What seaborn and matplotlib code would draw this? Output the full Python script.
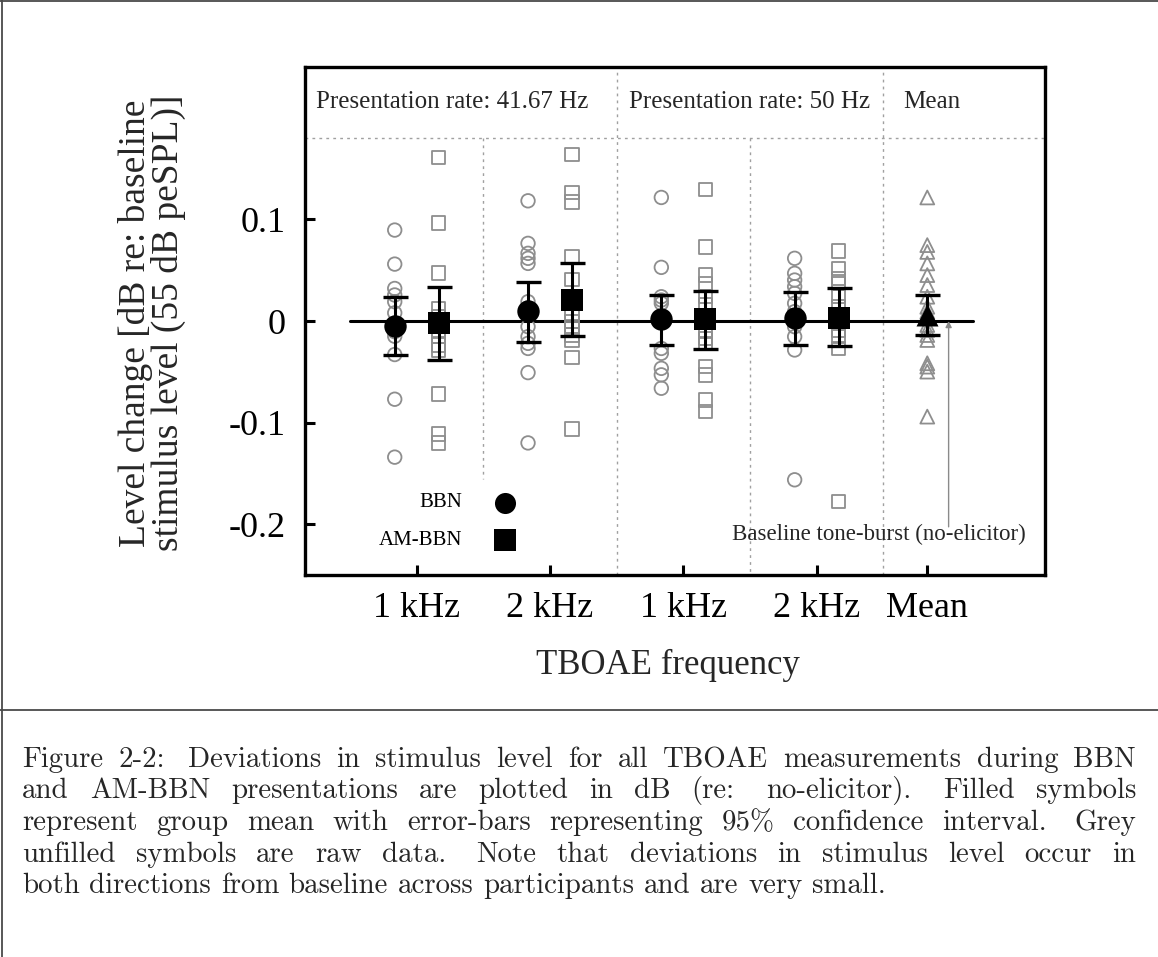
import numpy as np
import pandas as pd
import matplotlib
matplotlib.use("Agg")
import matplotlib.pyplot as plt
import seaborn as sns
from matplotlib.lines import Line2D

# ---------------- data ----------------
freq_labels = ["1 kHz", "2 kHz", "1 kHz", "2 kHz", "Mean"]
header_labels = ["Presentation rate: 41.67 Hz", "Presentation rate: 50 Hz", "Mean"]

bbn_r41_1k = [0.0895, 0.056, 0.032, 0.0256, 0.019, 0.008, -0.002, -0.0105, -0.015, -0.033, -0.077, -0.134]
amb_r41_1k = [0.161, 0.0967, 0.047, 0.0125, 0.0043, -0.0088, -0.0154, -0.0236, -0.0285, -0.0718, -0.1114, -0.12]
bbn_r41_2k = [0.1183, 0.0764, 0.0666, 0.0617, 0.0567, 0.019, 0.013, -0.0056, -0.0154, -0.022, -0.027, -0.0508, -0.12]
amb_r41_2k = [0.164, 0.1265, 0.1173, 0.0632, 0.041, 0.019, 0.0075, -0.0007, -0.0072, -0.0138, -0.0187, -0.0357, -0.1065]
bbn_r50_1k = [0.1216, 0.0528, 0.0239, 0.0206, 0.0174, 0.001, -0.027, -0.0318, -0.0466, -0.053, -0.0662]
amb_r50_1k = [0.1295, 0.073, 0.0452, 0.037, 0.0239, 0.0157, -0.0105, -0.017, -0.022, -0.0449, -0.053, -0.0777, -0.0892]
bbn_r50_2k = [0.0617, 0.0469, 0.0403, 0.0338, 0.0272, 0.0174, 0.0092, -0.0056, -0.0154, -0.0285, -0.1563]
amb_r50_2k = [0.069, 0.0518, 0.042, 0.037, 0.0239, 0.014, -0.0088, -0.0154, -0.027, -0.1777]
mean_raw = [0.1216, 0.0747, 0.068, 0.0567, 0.0452, 0.0354, 0.0239, 0.014, 0.0092, 0.0043,
            -0.0039, -0.0088, -0.0138, -0.0187, -0.0416, -0.0449, -0.0498, -0.0941]

bbn_mean = [-0.0049, 0.0098, 0.0016, 0.0026]
bbn_ci_lo = [-0.0334, -0.0203, -0.0236, -0.0236]
bbn_ci_hi = [0.0233, 0.0387, 0.0256, 0.0288]
amb_mean = [-0.0023, 0.0206, 0.0016, 0.0033]
amb_ci_lo = [-0.0384, -0.0147, -0.0279, -0.0246]
amb_ci_hi = [0.0338, 0.0567, 0.0298, 0.0321]
all_mean = [0.0059]
all_ci_lo = [-0.0138]
all_ci_hi = [0.0256]

caption_lines = [
    "Figure 2-2: Deviations in stimulus level for all TBOAE measurements during BBN",
    "and AM-BBN presentations are plotted in dB (re: no-elicitor). Filled symbols",
    "represent group mean with error-bars representing 95% confidence interval. Grey",
    "unfilled symbols are raw data. Note that deviations in stimulus level occur in",
    "both directions from baseline across participants and are very small.",
]

# ---------------- layout / style ----------------
sns.set_theme(style="white")
plt.rcParams["font.family"] = ["Liberation Serif", "DejaVu Serif"]

W, H = 1158, 957
fig = plt.figure(figsize=(W / 100, H / 100), dpi=100)
fig.patch.set_facecolor("white")

ax = fig.add_axes([305 / W, 1 - 575 / H, (1045 - 305) / W, (575 - 67) / H])
ax.set_facecolor("white")
ax.set_xlim(-0.838, 4.713)
ax.set_ylim(-0.25, 0.25)

group_pos = np.arange(4)
off = 0.165
mean_pos = 3.83
grey = "#8e8e8e"

rows = []
bbn_sets = [bbn_r41_1k, bbn_r41_2k, bbn_r50_1k, bbn_r50_2k]
amb_sets = [amb_r41_1k, amb_r41_2k, amb_r50_1k, amb_r50_2k]
for g, (b, a) in enumerate(zip(bbn_sets, amb_sets)):
    rows += [{"x": g - off, "y": v, "series": "BBN"} for v in b]
    rows += [{"x": g + off, "y": v, "series": "AM-BBN"} for v in a]
rows += [{"x": mean_pos, "y": v, "series": "Mean"} for v in mean_raw]
raw = pd.DataFrame(rows)

# separators / header
dot = (0, (2, 3))
ax.axhline(0.18, color="#a0a0a0", lw=1, ls=dot, zorder=1)
ax.plot([0.497, 0.497], [0.18, -0.156], color="#a0a0a0", lw=1, ls=dot, zorder=1)
ax.axvline(1.503, color="#a0a0a0", lw=1, ls=dot, zorder=1)
ax.plot([2.497, 2.497], [0.18, -0.25], color="#a0a0a0", lw=1, ls=dot, zorder=1)
ax.axvline(3.5, color="#a0a0a0", lw=1, ls=dot, zorder=1)

# zero baseline
ax.plot([-0.5, 4.17], [0, 0], color="black", lw=2.2, zorder=2)

# raw data (grey open symbols)
mk = {"BBN": "o", "AM-BBN": "s", "Mean": "^"}
for s, m in mk.items():
    sub = raw[raw["series"] == s]
    sns.scatterplot(data=sub, x="x", y="y", marker=m, s=95 if m != "^" else 100,
                    facecolors="none", edgecolor=grey, linewidth=1.3, ax=ax,
                    zorder=3, legend=False)

# group means with 95% CI
mdf = pd.DataFrame({
    "x": list(group_pos - off) + list(group_pos + off) + [mean_pos],
    "y": bbn_mean + amb_mean + all_mean,
    "lo": bbn_ci_lo + amb_ci_lo + all_ci_lo,
    "hi": bbn_ci_hi + amb_ci_hi + all_ci_hi,
    "series": ["BBN"] * 4 + ["AM-BBN"] * 4 + ["Mean"],
})
ax.errorbar(mdf["x"], mdf["y"], yerr=[mdf["y"] - mdf["lo"], mdf["hi"] - mdf["y"]],
            fmt="none", ecolor="black", elinewidth=2.2, capsize=9, capthick=2.4, zorder=4)
for s, m in mk.items():
    sub = mdf[mdf["series"] == s]
    sns.scatterplot(data=sub, x="x", y="y", marker=m, s=260 if m == "o" else 250,
                    color="black", edgecolor="black", linewidth=0, ax=ax, zorder=5, legend=False)

# legend (text + marker)
leg_y = [-0.179, -0.216]
for lab, yy, m in zip(["BBN", "AM-BBN"], leg_y, ["o", "s"]):
    ax.text(0.345, yy, lab, ha="right", va="center", fontsize=15, color="black")
    sns.scatterplot(x=[0.66], y=[yy], marker=m, s=230, color="black", linewidth=0, ax=ax,
                    legend=False, zorder=5)

# header texts
ax.text(0.265, 0.216, header_labels[0], ha="center", va="center", fontsize=18)
ax.text(2.5, 0.216, header_labels[1], ha="center", va="center", fontsize=18)
ax.text(3.86, 0.216, header_labels[2], ha="center", va="center", fontsize=18)

# baseline annotation
ax.annotate("", xy=(3.99, 0.0), xytext=(3.99, -0.2026),
            arrowprops=dict(arrowstyle="-|>", color="#8a8a8a", lw=1, mutation_scale=9,
                            shrinkA=0, shrinkB=0), zorder=3)
ax.text(3.47, -0.21, "Baseline tone-burst (no-elicitor)", ha="center", va="center", fontsize=16.5)

# axes cosmetics
ax.set_xticks(list(group_pos) + [mean_pos])
ax.set_xticklabels(freq_labels)
ax.set_yticks([-0.2, -0.1, 0, 0.1])
ax.set_yticklabels(["-0.2", "-0.1", "0", "0.1"])
ax.tick_params(axis="both", direction="in", length=7, width=2.2, color="black",
               labelsize=26, labelcolor="black")
ax.tick_params(axis="x", pad=12)
ax.tick_params(axis="y", pad=14)
ax.tick_params(left=True, bottom=True)
for sp in ax.spines.values():
    sp.set_visible(True)
    sp.set_color("black")
    sp.set_linewidth(2.4)
ax.grid(False)
ax.set_xlabel("")
ax.set_ylabel("")

fig.text(668 / W, 1 - 665 / H, "TBOAE frequency", ha="center", va="center", fontsize=25)
fig.text(152 / W, 1 - 323 / H, "Level change [dB re: baseline\nstimulus level (55 dB peSPL)]",
         ha="center", va="center", rotation=90, fontsize=27, linespacing=0.92,
         multialignment="center")

# frame lines
for xs, ys in [([0, 1], [1 - 1 / H, 1 - 1 / H]), ([1.5 / W, 1.5 / W], [0, 1]),
               ([0, 1], [1 - 710 / H, 1 - 710 / H])]:
    fig.add_artist(Line2D(xs, ys, transform=fig.transFigure, color="#4a4a4a", lw=1.3))

# caption, justified
cap_family = ["cmr10", "DejaVu Serif"]
cap_fs = 20.8
baselines = [767, 798, 830, 862, 893]
x_left, x_right = 22, 1136
renderer = fig.canvas.get_renderer()
space_px = cap_fs * 100 / 72 * 0.333
for i, line in enumerate(caption_lines):
    words = line.split(" ")
    y = 1 - baselines[i] / H
    texts = [fig.text(0, y, w, fontsize=cap_fs, family=cap_family, va="baseline", ha="left")
             for w in words]
    widths = [t.get_window_extent(renderer).width for t in texts]
    weights = [1.5 if w[-1] in ".:" else 1.0 for w in words[:-1]]
    if i < len(caption_lines) - 1:
        unit = (x_right - x_left - sum(widths)) / sum(weights)
    else:
        unit = space_px
    x = x_left
    for j, (t, w) in enumerate(zip(texts, widths)):
        t.set_x(x / W)
        if j < len(weights):
            x += w + unit * weights[j]

fig.savefig("out.png", dpi=100, facecolor="white")
